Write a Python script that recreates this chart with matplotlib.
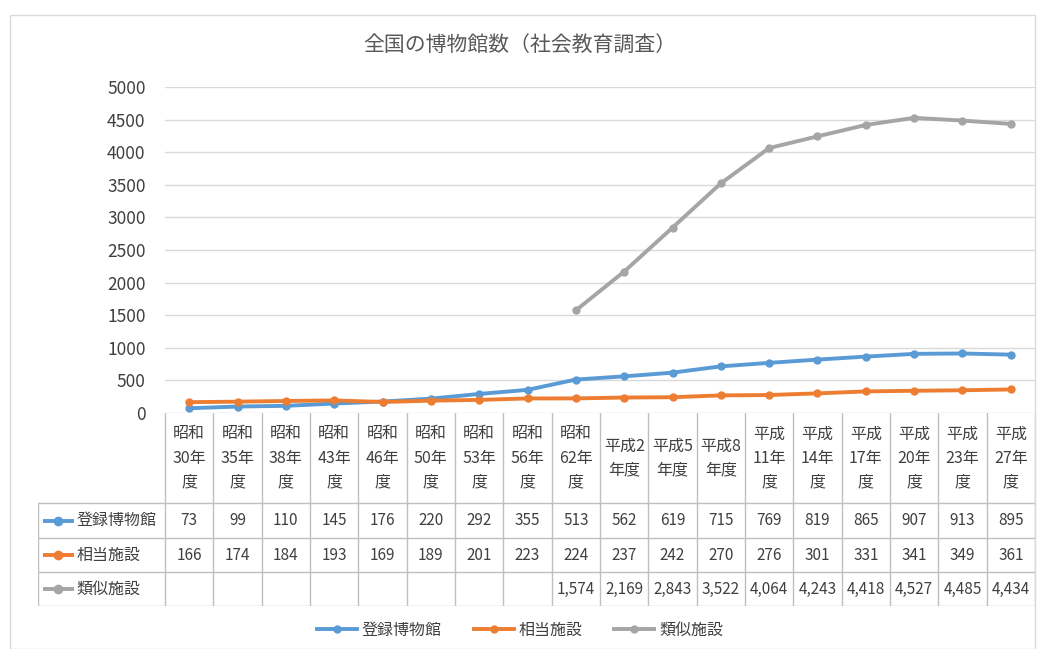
import matplotlib.pyplot as plt
from matplotlib.patches import Rectangle

plt.rcParams['font.family'] = ['Noto Sans CJK JP', 'DejaVu Sans']

categories = ['昭和\n30年\n度', '昭和\n35年\n度', '昭和\n38年\n度', '昭和\n43年\n度', '昭和\n46年\n度',
              '昭和\n50年\n度', '昭和\n53年\n度', '昭和\n56年\n度', '昭和\n62年\n度', '平成2\n年度',
              '平成5\n年度', '平成8\n年度', '平成\n11年\n度', '平成\n14年\n度', '平成\n17年\n度',
              '平成\n20年\n度', '平成\n23年\n度', '平成\n27年\n度']
registered = [73, 99, 110, 145, 176, 220, 292, 355, 513, 562, 619, 715, 769, 819, 865, 907, 913, 895]
equivalent = [166, 174, 184, 193, 169, 189, 201, 223, 224, 237, 242, 270, 276, 301, 331, 341, 349, 361]
similar = [None] * 8 + [1574, 2169, 2843, 3522, 4064, 4243, 4418, 4527, 4485, 4434]
series = [('登録博物館', registered, '#5B9BD5'),
          ('相当施設', equivalent, '#ED7D31'),
          ('類似施設', similar, '#A5A5A5')]

W, H = 1040, 649
n = len(categories)
fig = plt.figure(figsize=(W / 100, H / 100), dpi=100)
fig.patches.append(Rectangle((10 / W, 0), 1025 / W, 634 / H, transform=fig.transFigure,
                             fill=False, edgecolor='#D9D9D9', lw=1))

x0, x1 = 165, 1035
ax = fig.add_axes([x0 / W, 1 - 413 / H, (x1 - x0) / W, (413 - 87) / H])
for name, vals, col in series:
    xs = [i + 0.5 for i, v in enumerate(vals) if v is not None]
    ys = [v for v in vals if v is not None]
    ax.plot(xs, ys, color=col, lw=2.8, marker='o', ms=5, label=name)
ax.set_xlim(0, n)
ax.set_ylim(0, 5000)
ax.set_yticks(range(0, 5001, 500))
ax.set_xticks([])
ax.grid(axis='y', color='#D9D9D9', lw=1)
ax.set_axisbelow(True)
for s in ax.spines.values():
    s.set_visible(False)
ax.tick_params(axis='y', length=0, labelsize=12.5, colors='#404040', pad=14)
fig.text(0.5, 1 - 45 / H, '全国の博物館数（社会教育調査）', ha='center', va='center',
         fontsize=15, color='#595959')

# data table
cw = (x1 - x0) / n
left = -(x0 - 38) / cw
tb = fig.add_axes([38 / W, 1 - 606 / H, (x1 - 38) / W, (606 - 413) / H])
tb.set_xlim(left, n)
tb.set_ylim(606, 413)
tb.axis('off')
lc = '#BFBFBF'
rows = [413, 503, 538, 572, 606]
for i in range(n + 1):
    tb.plot([i, i], [413, 606], color=lc, lw=1)
tb.plot([left, left], [503, 606], color=lc, lw=1)
for r in rows[1:]:
    tb.plot([left, n], [r, r], color=lc, lw=1)
for i, c in enumerate(categories):
    tb.text(i + 0.5, 458, c, ha='center', va='center', fontsize=11.5, color='#404040', linespacing=1.55)
for k, (name, vals, col) in enumerate(series):
    yc = (rows[k + 1] + rows[k + 2]) / 2
    tb.plot([left + 0.1, left + 0.75], [yc, yc], color=col, lw=2.8, solid_capstyle='butt')
    tb.plot([left + 0.42], [yc], color=col, marker='o', ms=6)
    tb.text(left + 0.8, yc, name, ha='left', va='center', fontsize=11.5, color='#404040')
    for i, v in enumerate(vals):
        if v is not None:
            txt = f'{v:,}' if k == 2 else str(v)
            tb.text(i + 0.5, yc, txt, ha='center', va='center', fontsize=11, color='#404040')

fig.legend(loc='center', bbox_to_anchor=(0.5, 1 - 630 / H), ncol=3, frameon=False,
           fontsize=11.5, handlelength=2.5, handletextpad=0.3, columnspacing=2.0,
           labelcolor='#404040')
fig.savefig('out.png', dpi=100)
